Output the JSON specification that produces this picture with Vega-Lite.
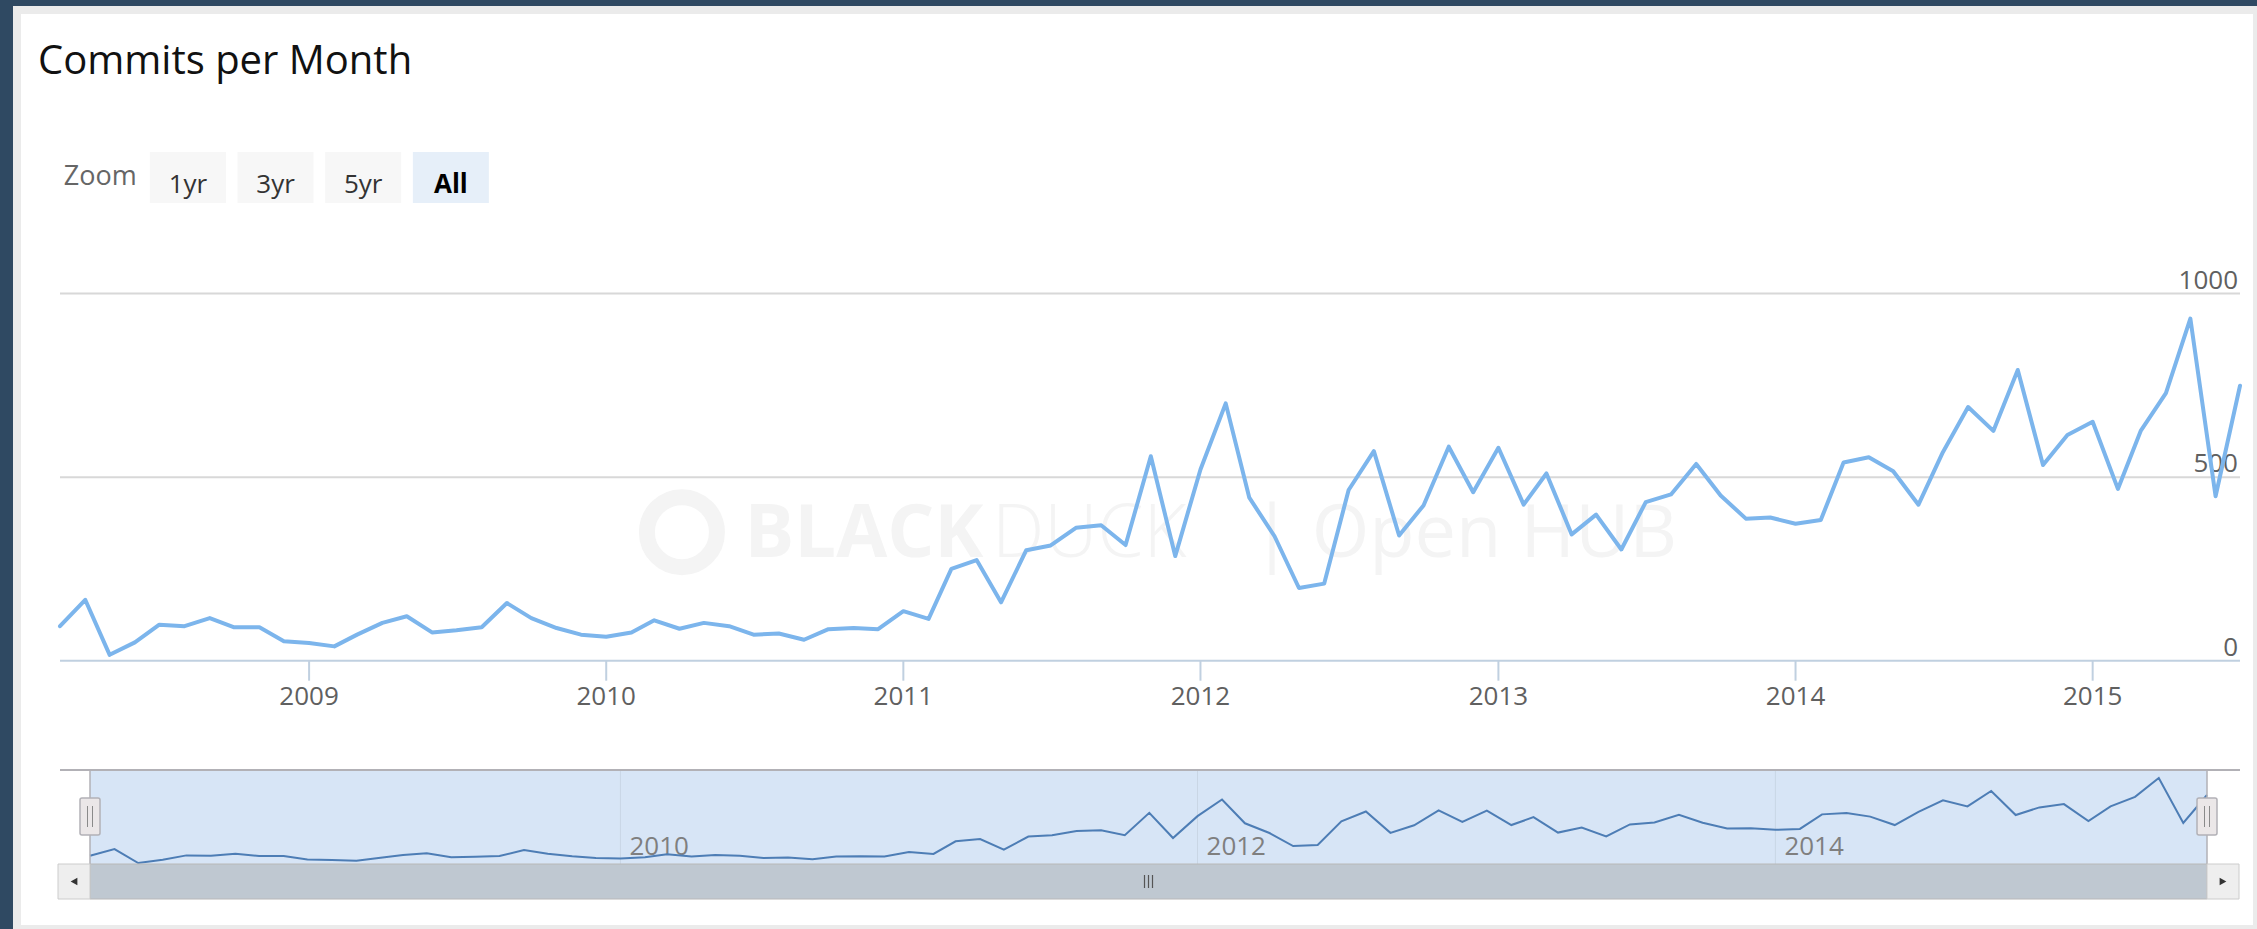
{
  "$schema": "https://vega.github.io/schema/vega-lite/v6.json",
  "width": 2240,
  "height": 919,
  "autosize": {"type": "none"},
  "padding": {"left": 17, "top": 10, "right": 0, "bottom": 0},
  "background": "#2f4962",
  "config": {
    "view": {"fill": "white", "stroke": "#ebebeb", "strokeWidth": 8},
    "text": {"font": "Open Sans"},
    "axis": {"labelFont": "Open Sans"}
  },
  "title": {"text": "Commits per Month", "anchor": "start", "frame": "group", "orient": "top", "offset": -104, "dx": 21, "baseline": "alphabetic", "font": "Open Sans", "fontSize": 40, "fontWeight": "normal", "color": "#111111"},
  "data": {"values": [{}]},
  "datasets": {
    "commits": [
      {"date":"2008-03-01","commits":94},{"date":"2008-04-01","commits":166},{"date":"2008-05-01","commits":16},{"date":"2008-06-01","commits":50},
      {"date":"2008-07-01","commits":98},{"date":"2008-08-01","commits":94},{"date":"2008-09-01","commits":116},{"date":"2008-10-01","commits":91},
      {"date":"2008-11-01","commits":91},{"date":"2008-12-01","commits":53},{"date":"2009-01-01","commits":48},{"date":"2009-02-01","commits":39},
      {"date":"2009-03-01","commits":71},{"date":"2009-04-01","commits":103},{"date":"2009-05-01","commits":121},{"date":"2009-06-01","commits":77},
      {"date":"2009-07-01","commits":83},{"date":"2009-08-01","commits":91},{"date":"2009-09-01","commits":157},{"date":"2009-10-01","commits":116},
      {"date":"2009-11-01","commits":89},{"date":"2009-12-01","commits":71},{"date":"2010-01-01","commits":65},{"date":"2010-02-01","commits":77},
      {"date":"2010-03-01","commits":110},{"date":"2010-04-01","commits":87},{"date":"2010-05-01","commits":103},{"date":"2010-06-01","commits":94},
      {"date":"2010-07-01","commits":71},{"date":"2010-08-01","commits":74},{"date":"2010-09-01","commits":57},{"date":"2010-10-01","commits":86},
      {"date":"2010-11-01","commits":89},{"date":"2010-12-01","commits":86},{"date":"2011-01-01","commits":135},{"date":"2011-02-01","commits":114},
      {"date":"2011-03-01","commits":250},{"date":"2011-04-01","commits":274},{"date":"2011-05-01","commits":159},{"date":"2011-06-01","commits":301},
      {"date":"2011-07-01","commits":314},{"date":"2011-08-01","commits":362},{"date":"2011-09-01","commits":369},{"date":"2011-10-01","commits":315},
      {"date":"2011-11-01","commits":557},{"date":"2011-12-01","commits":285},{"date":"2012-01-01","commits":521},{"date":"2012-02-01","commits":701},
      {"date":"2012-03-01","commits":444},{"date":"2012-04-01","commits":339},{"date":"2012-05-01","commits":198},{"date":"2012-06-01","commits":210},
      {"date":"2012-07-01","commits":465},{"date":"2012-08-01","commits":571},{"date":"2012-09-01","commits":341},{"date":"2012-10-01","commits":423},
      {"date":"2012-11-01","commits":583},{"date":"2012-12-01","commits":459},{"date":"2013-01-01","commits":580},{"date":"2013-02-01","commits":425},
      {"date":"2013-03-01","commits":510},{"date":"2013-04-01","commits":344},{"date":"2013-05-01","commits":398},{"date":"2013-06-01","commits":303},
      {"date":"2013-07-01","commits":432},{"date":"2013-08-01","commits":453},{"date":"2013-09-01","commits":536},{"date":"2013-10-01","commits":450},
      {"date":"2013-11-01","commits":387},{"date":"2013-12-01","commits":390},{"date":"2014-01-01","commits":373},{"date":"2014-02-01","commits":383},
      {"date":"2014-03-01","commits":540},{"date":"2014-04-01","commits":554},{"date":"2014-05-01","commits":516},{"date":"2014-06-01","commits":425},
      {"date":"2014-07-01","commits":568},{"date":"2014-08-01","commits":691},{"date":"2014-09-01","commits":626},{"date":"2014-10-01","commits":792},
      {"date":"2014-11-01","commits":533},{"date":"2014-12-01","commits":615},{"date":"2015-01-01","commits":651},{"date":"2015-02-01","commits":468},
      {"date":"2015-03-01","commits":626},{"date":"2015-04-01","commits":729},{"date":"2015-05-01","commits":932},{"date":"2015-06-01","commits":448},
      {"date":"2015-07-01","commits":749}
    ],
    "grid": [{"v": 500}, {"v": 1000}],
    "ylabels": [{"v": "0", "n": 0}, {"v": "500", "n": 500}, {"v": "1000", "n": 1000}],
    "years": [{"date": "2009-01-01", "year": "2009"}, {"date": "2010-01-01", "year": "2010"}, {"date": "2011-01-01", "year": "2011"}, {"date": "2012-01-01", "year": "2012"}, {"date": "2013-01-01", "year": "2013"}, {"date": "2014-01-01", "year": "2014"}, {"date": "2015-01-01", "year": "2015"}],
    "navYears": [{"date": "2010-01-01", "year": "2010"}, {"date": "2012-01-01", "year": "2012"}, {"date": "2014-01-01", "year": "2014"}],
    "ends": [{"date": "2008-03-01"}, {"date": "2015-07-01"}],
    "buttons": [{"label": "1yr", "selected": false}, {"label": "3yr", "selected": false}, {"label": "5yr", "selected": false}, {"label": "All", "selected": true}]
  },
  "resolve": {"scale": {"x": "independent", "y": "independent"}},
  "layer": [
    {
      "layer": [
        {
          "mark": {"type": "point", "shape": "circle", "filled": false, "stroke": "#f4f4f4", "strokeWidth": 16, "size": 4900, "opacity": 1},
          "encoding": {
            "x": {"datum": {"year": 2010, "month": 4, "date": 4, "utc": true}, "type": "temporal", "axis": null, "scale": {"type": "utc", "domain": [{"year": 2008, "month": 3, "date": 1, "utc": true}, {"year": 2015, "month": 7, "date": 1, "utc": true}], "range": [43, 2223], "nice": false}},
            "y": {"datum": 350, "type": "quantitative", "axis": null, "scale": {"domain": [0, 1000], "range": [650.7, 283.6], "nice": false, "zero": false}}
          }
        },
        {
          "mark": {"type": "text", "text": "BLACK", "fontSize": 74, "fontWeight": "bold", "color": "#f4f4f4", "align": "left", "baseline": "alphabetic"},
          "encoding": {
            "x": {"datum": {"year": 2010, "month": 6, "date": 20, "utc": true}, "type": "temporal", "axis": null, "scale": {"type": "utc", "domain": [{"year": 2008, "month": 3, "date": 1, "utc": true}, {"year": 2015, "month": 7, "date": 1, "utc": true}], "range": [43, 2223], "nice": false}},
            "y": {"datum": 282, "type": "quantitative", "axis": null, "scale": {"domain": [0, 1000], "range": [650.7, 283.6], "nice": false, "zero": false}}
          }
        },
        {
          "mark": {"type": "text", "text": "DUCK", "fontSize": 74, "fontWeight": 300, "color": "#f4f4f4", "align": "left", "baseline": "alphabetic"},
          "encoding": {
            "x": {"datum": {"year": 2011, "month": 4, "date": 20, "utc": true}, "type": "temporal", "axis": null, "scale": {"type": "utc", "domain": [{"year": 2008, "month": 3, "date": 1, "utc": true}, {"year": 2015, "month": 7, "date": 1, "utc": true}], "range": [43, 2223], "nice": false}},
            "y": {"datum": 282, "type": "quantitative", "axis": null, "scale": {"domain": [0, 1000], "range": [650.7, 283.6], "nice": false, "zero": false}}
          }
        },
        {
          "mark": {"type": "text", "text": "| Open HUB", "fontSize": 74, "fontWeight": "normal", "color": "#f4f4f4", "align": "left", "baseline": "alphabetic"},
          "encoding": {
            "x": {"datum": {"year": 2012, "month": 3, "date": 4, "utc": true}, "type": "temporal", "axis": null, "scale": {"type": "utc", "domain": [{"year": 2008, "month": 3, "date": 1, "utc": true}, {"year": 2015, "month": 7, "date": 1, "utc": true}], "range": [43, 2223], "nice": false}},
            "y": {"datum": 282, "type": "quantitative", "axis": null, "scale": {"domain": [0, 1000], "range": [650.7, 283.6], "nice": false, "zero": false}}
          }
        },
        {
          "data": {"name": "grid"},
          "mark": {"type": "rule", "color": "#d8d8d8", "strokeWidth": 2},
          "encoding": {
            "x": {"datum": {"year": 2008, "month": 3, "date": 1, "utc": true}, "type": "temporal", "axis": null, "scale": {"type": "utc", "domain": [{"year": 2008, "month": 3, "date": 1, "utc": true}, {"year": 2015, "month": 7, "date": 1, "utc": true}], "range": [43, 2223], "nice": false}},
            "x2": {"datum": {"year": 2015, "month": 7, "date": 1, "utc": true}},
            "y": {"field": "v", "type": "quantitative", "axis": null, "scale": {"domain": [0, 1000], "range": [650.7, 283.6], "nice": false, "zero": false}}
          }
        },
        {
          "mark": {"type": "rule", "color": "#c0d0e0", "strokeWidth": 2},
          "encoding": {
            "x": {"datum": {"year": 2008, "month": 3, "date": 1, "utc": true}, "type": "temporal", "axis": null, "scale": {"type": "utc", "domain": [{"year": 2008, "month": 3, "date": 1, "utc": true}, {"year": 2015, "month": 7, "date": 1, "utc": true}], "range": [43, 2223], "nice": false}},
            "x2": {"datum": {"year": 2015, "month": 7, "date": 1, "utc": true}},
            "y": {"datum": 0, "type": "quantitative", "axis": null, "scale": {"domain": [0, 1000], "range": [650.7, 283.6], "nice": false, "zero": false}}
          }
        },
        {
          "data": {"name": "years"},
          "mark": {"type": "rule", "color": "#c0d0e0", "strokeWidth": 2, "y2Offset": 20},
          "encoding": {
            "x": {"field": "date", "type": "temporal", "axis": null, "scale": {"type": "utc", "domain": [{"year": 2008, "month": 3, "date": 1, "utc": true}, {"year": 2015, "month": 7, "date": 1, "utc": true}], "range": [43, 2223], "nice": false}},
            "y": {"datum": 0, "type": "quantitative", "axis": null, "scale": {"domain": [0, 1000], "range": [650.7, 283.6], "nice": false, "zero": false}},
            "y2": {"datum": 0}
          }
        },
        {
          "data": {"name": "years"},
          "mark": {"type": "text", "align": "center", "baseline": "alphabetic", "dy": 44, "fontSize": 26, "color": "#606060"},
          "encoding": {
            "x": {"field": "date", "type": "temporal", "axis": null, "scale": {"type": "utc", "domain": [{"year": 2008, "month": 3, "date": 1, "utc": true}, {"year": 2015, "month": 7, "date": 1, "utc": true}], "range": [43, 2223], "nice": false}},
            "y": {"datum": 0, "type": "quantitative", "axis": null, "scale": {"domain": [0, 1000], "range": [650.7, 283.6], "nice": false, "zero": false}},
            "text": {"field": "year", "type": "nominal"}
          }
        },
        {
          "data": {"name": "ylabels"},
          "mark": {"type": "text", "align": "right", "baseline": "alphabetic", "dx": -2, "dy": -5, "fontSize": 26, "color": "#606060"},
          "encoding": {
            "x": {"datum": {"year": 2015, "month": 7, "date": 1, "utc": true}, "type": "temporal", "axis": null, "scale": {"type": "utc", "domain": [{"year": 2008, "month": 3, "date": 1, "utc": true}, {"year": 2015, "month": 7, "date": 1, "utc": true}], "range": [43, 2223], "nice": false}},
            "y": {"field": "n", "type": "quantitative", "axis": null, "scale": {"domain": [0, 1000], "range": [650.7, 283.6], "nice": false, "zero": false}},
            "text": {"field": "v", "type": "nominal"}
          }
        },
        {
          "data": {"name": "commits"},
          "mark": {"type": "line", "color": "#7cb5ec", "strokeWidth": 4, "strokeJoin": "round", "strokeCap": "round"},
          "encoding": {
            "x": {"field": "date", "type": "temporal", "axis": null, "scale": {"type": "utc", "domain": [{"year": 2008, "month": 3, "date": 1, "utc": true}, {"year": 2015, "month": 7, "date": 1, "utc": true}], "range": [43, 2223], "nice": false}},
            "y": {"field": "commits", "type": "quantitative", "axis": null, "scale": {"domain": [0, 1000], "range": [650.7, 283.6], "nice": false, "zero": false}}
          }
        }
      ]
    },
    {
      "layer": [
        {
          "mark": {"type": "rect", "color": "#d7e5f6", "yOffset": -8, "y2Offset": 1},
          "encoding": {
            "x": {"datum": {"year": 2008, "month": 3, "date": 1, "utc": true}, "type": "temporal", "axis": null, "scale": {"type": "utc", "domain": [{"year": 2008, "month": 3, "date": 1, "utc": true}, {"year": 2015, "month": 7, "date": 1, "utc": true}], "range": [73, 2190], "nice": false}},
            "x2": {"datum": {"year": 2015, "month": 7, "date": 1, "utc": true}},
            "y": {"datum": 932, "type": "quantitative", "axis": null, "scale": {"domain": [16, 932], "range": [853, 768], "nice": false, "zero": false}},
            "y2": {"datum": 16}
          }
        },
        {
          "data": {"name": "navYears"},
          "mark": {"type": "rule", "color": "#c9d6e5", "strokeWidth": 1, "yOffset": -8, "y2Offset": 1},
          "encoding": {
            "x": {"field": "date", "type": "temporal", "axis": null, "scale": {"type": "utc", "domain": [{"year": 2008, "month": 3, "date": 1, "utc": true}, {"year": 2015, "month": 7, "date": 1, "utc": true}], "range": [73, 2190], "nice": false}},
            "y": {"datum": 932, "type": "quantitative", "axis": null, "scale": {"domain": [16, 932], "range": [853, 768], "nice": false, "zero": false}},
            "y2": {"datum": 16}
          }
        },
        {
          "data": {"name": "navYears"},
          "mark": {"type": "text", "align": "left", "baseline": "alphabetic", "dx": 9, "dy": -8, "fontSize": 26, "color": "#7f7f7f"},
          "encoding": {
            "x": {"field": "date", "type": "temporal", "axis": null, "scale": {"type": "utc", "domain": [{"year": 2008, "month": 3, "date": 1, "utc": true}, {"year": 2015, "month": 7, "date": 1, "utc": true}], "range": [73, 2190], "nice": false}},
            "y": {"datum": 16, "type": "quantitative", "axis": null, "scale": {"domain": [16, 932], "range": [853, 768], "nice": false, "zero": false}},
            "text": {"field": "year", "type": "nominal"}
          }
        },
        {
          "data": {"name": "commits"},
          "mark": {"type": "line", "color": "#4d7db5", "strokeWidth": 2},
          "encoding": {
            "x": {"field": "date", "type": "temporal", "axis": null, "scale": {"type": "utc", "domain": [{"year": 2008, "month": 3, "date": 1, "utc": true}, {"year": 2015, "month": 7, "date": 1, "utc": true}], "range": [73, 2190], "nice": false}},
            "y": {"field": "commits", "type": "quantitative", "axis": null, "scale": {"domain": [16, 932], "range": [853, 768], "nice": false, "zero": false}}
          }
        },
        {
          "mark": {"type": "rule", "color": "#b2b1b6", "strokeWidth": 2, "xOffset": -30, "x2Offset": 33, "yOffset": -8},
          "encoding": {
            "x": {"datum": {"year": 2008, "month": 3, "date": 1, "utc": true}, "type": "temporal", "axis": null, "scale": {"type": "utc", "domain": [{"year": 2008, "month": 3, "date": 1, "utc": true}, {"year": 2015, "month": 7, "date": 1, "utc": true}], "range": [73, 2190], "nice": false}},
            "x2": {"datum": {"year": 2015, "month": 7, "date": 1, "utc": true}},
            "y": {"datum": 932, "type": "quantitative", "axis": null, "scale": {"domain": [16, 932], "range": [853, 768], "nice": false, "zero": false}}
          }
        },
        {
          "data": {"name": "ends"},
          "mark": {"type": "rule", "color": "#b2b1b6", "strokeWidth": 1.5, "yOffset": -8, "y2Offset": 1},
          "encoding": {
            "x": {"field": "date", "type": "temporal", "axis": null, "scale": {"type": "utc", "domain": [{"year": 2008, "month": 3, "date": 1, "utc": true}, {"year": 2015, "month": 7, "date": 1, "utc": true}], "range": [73, 2190], "nice": false}},
            "y": {"datum": 932, "type": "quantitative", "axis": null, "scale": {"domain": [16, 932], "range": [853, 768], "nice": false, "zero": false}},
            "y2": {"datum": 16}
          }
        },
        {
          "data": {"name": "ends"},
          "mark": {"type": "rect", "fill": "#ebe7e8", "stroke": "#b2b1b6", "strokeWidth": 1.5, "cornerRadius": 2, "xOffset": -10, "x2Offset": 10, "yOffset": 20, "y2Offset": -28},
          "encoding": {
            "x": {"field": "date", "type": "temporal", "axis": null, "scale": {"type": "utc", "domain": [{"year": 2008, "month": 3, "date": 1, "utc": true}, {"year": 2015, "month": 7, "date": 1, "utc": true}], "range": [73, 2190], "nice": false}},
            "x2": {"field": "date"},
            "y": {"datum": 932, "type": "quantitative", "axis": null, "scale": {"domain": [16, 932], "range": [853, 768], "nice": false, "zero": false}},
            "y2": {"datum": 16}
          }
        },
        {
          "data": {"name": "ends"},
          "mark": {"type": "rule", "color": "#8a8a8a", "strokeWidth": 1, "xOffset": -2.5, "yOffset": 28, "y2Offset": -36},
          "encoding": {
            "x": {"field": "date", "type": "temporal", "axis": null, "scale": {"type": "utc", "domain": [{"year": 2008, "month": 3, "date": 1, "utc": true}, {"year": 2015, "month": 7, "date": 1, "utc": true}], "range": [73, 2190], "nice": false}},
            "y": {"datum": 932, "type": "quantitative", "axis": null, "scale": {"domain": [16, 932], "range": [853, 768], "nice": false, "zero": false}},
            "y2": {"datum": 16}
          }
        },
        {
          "data": {"name": "ends"},
          "mark": {"type": "rule", "color": "#8a8a8a", "strokeWidth": 1, "xOffset": 2.5, "yOffset": 28, "y2Offset": -36},
          "encoding": {
            "x": {"field": "date", "type": "temporal", "axis": null, "scale": {"type": "utc", "domain": [{"year": 2008, "month": 3, "date": 1, "utc": true}, {"year": 2015, "month": 7, "date": 1, "utc": true}], "range": [73, 2190], "nice": false}},
            "y": {"datum": 932, "type": "quantitative", "axis": null, "scale": {"domain": [16, 932], "range": [853, 768], "nice": false, "zero": false}},
            "y2": {"datum": 16}
          }
        },
        {
          "mark": {"type": "rect", "fill": "#bfc8d1", "stroke": "#b8b8b8", "strokeWidth": 1, "yOffset": 1, "y2Offset": 36},
          "encoding": {
            "x": {"datum": {"year": 2008, "month": 3, "date": 1, "utc": true}, "type": "temporal", "axis": null, "scale": {"type": "utc", "domain": [{"year": 2008, "month": 3, "date": 1, "utc": true}, {"year": 2015, "month": 7, "date": 1, "utc": true}], "range": [73, 2190], "nice": false}},
            "x2": {"datum": {"year": 2015, "month": 7, "date": 1, "utc": true}},
            "y": {"datum": 16, "type": "quantitative", "axis": null, "scale": {"domain": [16, 932], "range": [853, 768], "nice": false, "zero": false}},
            "y2": {"datum": 16}
          }
        },
        {
          "mark": {"type": "rect", "fill": "#eeeeee", "stroke": "#cccccc", "strokeWidth": 1, "xOffset": -32, "x2Offset": 0, "yOffset": 1, "y2Offset": 36},
          "encoding": {
            "x": {"datum": {"year": 2008, "month": 3, "date": 1, "utc": true}, "type": "temporal", "axis": null, "scale": {"type": "utc", "domain": [{"year": 2008, "month": 3, "date": 1, "utc": true}, {"year": 2015, "month": 7, "date": 1, "utc": true}], "range": [73, 2190], "nice": false}},
            "x2": {"datum": {"year": 2008, "month": 3, "date": 1, "utc": true}},
            "y": {"datum": 16, "type": "quantitative", "axis": null, "scale": {"domain": [16, 932], "range": [853, 768], "nice": false, "zero": false}},
            "y2": {"datum": 16}
          }
        },
        {
          "mark": {"type": "rect", "fill": "#eeeeee", "stroke": "#cccccc", "strokeWidth": 1, "xOffset": 0, "x2Offset": 32, "yOffset": 1, "y2Offset": 36},
          "encoding": {
            "x": {"datum": {"year": 2015, "month": 7, "date": 1, "utc": true}, "type": "temporal", "axis": null, "scale": {"type": "utc", "domain": [{"year": 2008, "month": 3, "date": 1, "utc": true}, {"year": 2015, "month": 7, "date": 1, "utc": true}], "range": [73, 2190], "nice": false}},
            "x2": {"datum": {"year": 2015, "month": 7, "date": 1, "utc": true}},
            "y": {"datum": 16, "type": "quantitative", "axis": null, "scale": {"domain": [16, 932], "range": [853, 768], "nice": false, "zero": false}},
            "y2": {"datum": 16}
          }
        },
        {
          "mark": {"type": "point", "shape": "triangle-left", "filled": true, "color": "#333333", "size": 60, "xOffset": -16, "yOffset": 18.5, "opacity": 1},
          "encoding": {
            "x": {"datum": {"year": 2008, "month": 3, "date": 1, "utc": true}, "type": "temporal", "axis": null, "scale": {"type": "utc", "domain": [{"year": 2008, "month": 3, "date": 1, "utc": true}, {"year": 2015, "month": 7, "date": 1, "utc": true}], "range": [73, 2190], "nice": false}},
            "y": {"datum": 16, "type": "quantitative", "axis": null, "scale": {"domain": [16, 932], "range": [853, 768], "nice": false, "zero": false}}
          }
        },
        {
          "mark": {"type": "point", "shape": "triangle-right", "filled": true, "color": "#333333", "size": 60, "xOffset": 16, "yOffset": 18.5, "opacity": 1},
          "encoding": {
            "x": {"datum": {"year": 2015, "month": 7, "date": 1, "utc": true}, "type": "temporal", "axis": null, "scale": {"type": "utc", "domain": [{"year": 2008, "month": 3, "date": 1, "utc": true}, {"year": 2015, "month": 7, "date": 1, "utc": true}], "range": [73, 2190], "nice": false}},
            "y": {"datum": 16, "type": "quantitative", "axis": null, "scale": {"domain": [16, 932], "range": [853, 768], "nice": false, "zero": false}}
          }
        },
        {
          "mark": {"type": "rule", "color": "#555555", "strokeWidth": 1.2, "xOffset": -4, "yOffset": 12, "y2Offset": 25},
          "encoding": {
            "x": {"datum": {"year": 2011, "month": 10, "date": 31, "utc": true}, "type": "temporal", "axis": null, "scale": {"type": "utc", "domain": [{"year": 2008, "month": 3, "date": 1, "utc": true}, {"year": 2015, "month": 7, "date": 1, "utc": true}], "range": [73, 2190], "nice": false}},
            "y": {"datum": 16, "type": "quantitative", "axis": null, "scale": {"domain": [16, 932], "range": [853, 768], "nice": false, "zero": false}},
            "y2": {"datum": 16}
          }
        },
        {
          "mark": {"type": "rule", "color": "#555555", "strokeWidth": 1.2, "xOffset": 0, "yOffset": 12, "y2Offset": 25},
          "encoding": {
            "x": {"datum": {"year": 2011, "month": 10, "date": 31, "utc": true}, "type": "temporal", "axis": null, "scale": {"type": "utc", "domain": [{"year": 2008, "month": 3, "date": 1, "utc": true}, {"year": 2015, "month": 7, "date": 1, "utc": true}], "range": [73, 2190], "nice": false}},
            "y": {"datum": 16, "type": "quantitative", "axis": null, "scale": {"domain": [16, 932], "range": [853, 768], "nice": false, "zero": false}},
            "y2": {"datum": 16}
          }
        },
        {
          "mark": {"type": "rule", "color": "#555555", "strokeWidth": 1.2, "xOffset": 4, "yOffset": 12, "y2Offset": 25},
          "encoding": {
            "x": {"datum": {"year": 2011, "month": 10, "date": 31, "utc": true}, "type": "temporal", "axis": null, "scale": {"type": "utc", "domain": [{"year": 2008, "month": 3, "date": 1, "utc": true}, {"year": 2015, "month": 7, "date": 1, "utc": true}], "range": [73, 2190], "nice": false}},
            "y": {"datum": 16, "type": "quantitative", "axis": null, "scale": {"domain": [16, 932], "range": [853, 768], "nice": false, "zero": false}},
            "y2": {"datum": 16}
          }
        }
      ]
    },
    {
      "layer": [
        {
          "data": {"name": "buttons"},
          "transform": [{"filter": "!datum.selected"}],
          "mark": {"type": "bar", "color": "#f7f7f7"},
          "encoding": {
            "x": {"field": "label", "type": "nominal", "axis": null, "scale": {"type": "band", "domain": ["Zoom", "1yr", "3yr", "5yr", "All"], "range": [39.4, 477.7], "paddingInner": 0.133, "paddingOuter": 0.0666}},
            "y": {"datum": 1, "type": "quantitative", "axis": null, "scale": {"domain": [0, 1], "range": [193, 142], "nice": false, "zero": false}},
            "y2": {"datum": 0}
          }
        },
        {
          "data": {"name": "buttons"},
          "transform": [{"filter": "datum.selected"}],
          "mark": {"type": "bar", "color": "#e6eff9"},
          "encoding": {
            "x": {"field": "label", "type": "nominal", "axis": null, "scale": {"type": "band", "domain": ["Zoom", "1yr", "3yr", "5yr", "All"], "range": [39.4, 477.7], "paddingInner": 0.133, "paddingOuter": 0.0666}},
            "y": {"datum": 1, "type": "quantitative", "axis": null, "scale": {"domain": [0, 1], "range": [193, 142], "nice": false, "zero": false}},
            "y2": {"datum": 0}
          }
        },
        {
          "data": {"name": "buttons"},
          "transform": [{"filter": "!datum.selected"}],
          "mark": {"type": "text", "fontSize": 26, "color": "#333333", "align": "center", "baseline": "alphabetic", "dy": -10},
          "encoding": {
            "x": {"field": "label", "type": "nominal", "axis": null, "scale": {"type": "band", "domain": ["Zoom", "1yr", "3yr", "5yr", "All"], "range": [39.4, 477.7], "paddingInner": 0.133, "paddingOuter": 0.0666}},
            "y": {"datum": 0, "type": "quantitative", "axis": null, "scale": {"domain": [0, 1], "range": [193, 142], "nice": false, "zero": false}},
            "text": {"field": "label", "type": "nominal"}
          }
        },
        {
          "data": {"name": "buttons"},
          "transform": [{"filter": "datum.selected"}],
          "mark": {"type": "text", "fontSize": 26, "fontWeight": "bold", "color": "#000000", "align": "center", "baseline": "alphabetic", "dy": -10},
          "encoding": {
            "x": {"field": "label", "type": "nominal", "axis": null, "scale": {"type": "band", "domain": ["Zoom", "1yr", "3yr", "5yr", "All"], "range": [39.4, 477.7], "paddingInner": 0.133, "paddingOuter": 0.0666}},
            "y": {"datum": 0, "type": "quantitative", "axis": null, "scale": {"domain": [0, 1], "range": [193, 142], "nice": false, "zero": false}},
            "text": {"field": "label", "type": "nominal"}
          }
        },
        {
          "mark": {"type": "text", "text": "Zoom", "fontSize": 27, "color": "#666666", "align": "center", "baseline": "alphabetic", "dy": -18},
          "encoding": {
            "x": {"datum": "Zoom", "type": "nominal", "axis": null, "scale": {"type": "band", "domain": ["Zoom", "1yr", "3yr", "5yr", "All"], "range": [39.4, 477.7], "paddingInner": 0.133, "paddingOuter": 0.0666}},
            "y": {"datum": 0, "type": "quantitative", "axis": null, "scale": {"domain": [0, 1], "range": [193, 142], "nice": false, "zero": false}}
          }
        }
      ]
    }
  ]
}
